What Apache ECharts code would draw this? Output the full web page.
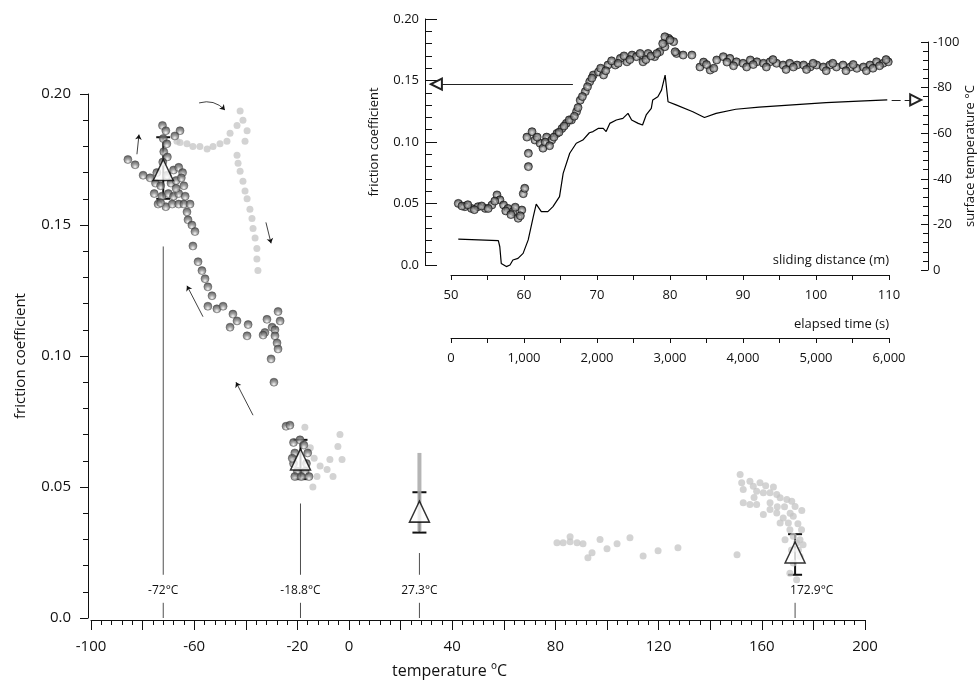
<!DOCTYPE html>
<html>
<head>
<meta charset="utf-8">
<title>friction coefficient vs temperature</title>
<script src="https://cdn.jsdelivr.net/npm/echarts@6/dist/echarts.min.js"></script>
<style>
  html, body { margin: 0; padding: 0; background: #fff; }
  #chart { width: 978px; height: 683px; }
</style>
</head>
<body>
<div id="chart"></div>
<script>
// ---- main panel: friction coefficient vs temperature ----
const darkPoints = [
  [-85.7, 0.175], [-82.9, 0.173], [-79.8, 0.169], [-77.1, 0.168],
  // cluster around -72
  [-72.3, 0.188], [-71, 0.186], [-72, 0.183], [-70.6, 0.181], [-71.8, 0.178], [-70.4, 0.176],
  [-72.2, 0.174], [-65.5, 0.186], [-67.5, 0.184],
  [-74.5, 0.170], [-68, 0.171], [-66, 0.172], [-64.5, 0.170], [-75, 0.166], [-73, 0.165],
  [-69, 0.166], [-67, 0.167], [-65, 0.168], [-64, 0.165], [-75.5, 0.162], [-72.5, 0.161],
  [-70, 0.162], [-68, 0.161], [-66, 0.162], [-63.5, 0.161], [-74, 0.158], [-71, 0.157],
  [-68.5, 0.158], [-66, 0.158], [-64, 0.158], [-67, 0.164], [-70.5, 0.169], [-73, 0.1585],
  // path back up towards -20
  [-61.6, 0.158], [-62.8, 0.155], [-62.4, 0.152], [-60.9, 0.150], [-59.7, 0.1475],
  [-60.5, 0.142], [-58.5, 0.136], [-57.0, 0.1326], [-55.8, 0.1295], [-54.7, 0.1264],
  [-53.1, 0.123], [-54.7, 0.119], [-51.2, 0.118], [-48.8, 0.119], [-45.0, 0.116],
  [-43.4, 0.1134], [-46.1, 0.111], [-39.1, 0.112], [-39.5, 0.1077], [-31.8, 0.114],
  [-32.6, 0.109], [-29.8, 0.111], [-27.5, 0.117], [-26.7, 0.1134], [-28.7, 0.110],
  [-33.3, 0.108], [-28.7, 0.1077], [-27.9, 0.105], [-27.5, 0.1027], [-30.2, 0.0989],
  [-29.1, 0.090], [-24.4, 0.0732], [-22.9, 0.0736],
  // cluster around -18.8
  [-21.5, 0.067], [-19, 0.068], [-17.5, 0.066], [-21, 0.063], [-16, 0.063], [-21.5, 0.059],
  [-16.5, 0.059], [-20, 0.056], [-17, 0.056], [-21, 0.054], [-18.5, 0.054], [-15.5, 0.054],
  [-22, 0.061]
];

const lightPoints = [
  // upper loop after heating
  [-66.7, 0.182], [-65.5, 0.1815], [-62.8, 0.181], [-60.5, 0.180], [-57.8, 0.180],
  [-55.0, 0.179], [-52.7, 0.180], [-50.0, 0.181], [-47.3, 0.182], [-46.1, 0.185],
  [-43.4, 0.188], [-42.2, 0.1935], [-41.1, 0.190], [-39.5, 0.186], [-40.3, 0.182],
  [-43.4, 0.1766], [-43.0, 0.1736], [-42.2, 0.1705], [-41.1, 0.1667], [-40.3, 0.163],
  [-39.5, 0.160], [-38.4, 0.156], [-37.6, 0.1525], [-37.2, 0.1487], [-36.4, 0.145],
  [-35.7, 0.141], [-35.7, 0.137], [-35.3, 0.1326],
  // around -18.8
  [-17.1, 0.0728], [-3.5, 0.070], [-4.3, 0.0655], [-2.7, 0.0605], [-7.4, 0.0605],
  [-8.5, 0.0567], [-6.2, 0.054], [-12.4, 0.054], [-14.0, 0.050], [-11.2, 0.058],
  [-15, 0.065], [-13.5, 0.061],
  // 80 - 130
  [80.6, 0.0287], [83, 0.0287], [85.7, 0.0291], [88.4, 0.0287], [90.7, 0.0283],
  [85.7, 0.031], [94.2, 0.0249], [92.6, 0.023], [97.3, 0.030], [100, 0.0264],
  [103.9, 0.0283], [108.9, 0.0306], [114, 0.0237], [119.8, 0.0257], [127.5, 0.0268],
  [150.4, 0.0241],
  // 150 - 178
  [151.6, 0.0548], [152.2, 0.0516], [152.8, 0.049], [155.4, 0.0522], [156.7, 0.0503],
  [159.3, 0.0516], [158, 0.0484], [160.6, 0.0478], [163.2, 0.0478], [165.8, 0.0471],
  [167.1, 0.0459], [169.7, 0.0452], [171.6, 0.0446], [152.8, 0.044], [155.4, 0.0433],
  [158, 0.0433], [160.6, 0.0395], [163.2, 0.0414], [165.8, 0.0401], [168.3, 0.0382],
  [170.3, 0.0363], [170.9, 0.0337], [172.2, 0.0312], [173.5, 0.0286], [174.2, 0.026],
  [174.8, 0.0235], [172.2, 0.021], [170.9, 0.0171], [173.5, 0.0146], [169, 0.0299],
  [174.8, 0.0299], [175.4, 0.0337], [172.2, 0.0388], [172.9, 0.0426], [163.2, 0.044],
  [167.1, 0.0363], [175.5, 0.041], [161.5, 0.0505], [164.5, 0.050], [166, 0.0425],
  [171, 0.040], [174, 0.036], [176, 0.028], [171.5, 0.026], [168.8, 0.0425], [157, 0.046]
];

const greyBar = [[27.3, 0.033], [27.3, 0.063]];

const meanTemps = [-72, -18.8, 27.3, 172.9];
const meanFriction = [0.171, 0.0605, 0.0406, 0.025];
const errLow = [0.160, 0.053, 0.0326, 0.0165];
const errHigh = [0.1835, 0.068, 0.048, 0.032];
const refLabels = ['-72°C', '-18.8°C', '27.3°C', '172.9°C'];
const refTop = [0.1418, 0.0437, 0.0248, 0];
const xLabelValues = [-100, -60, -20, 0, 40, 80, 120, 160, 200];

// small arrows drawn on the main panel (from, to, curveness), in data units
const mainArrows = [
  [[-82.2, 0.177], [-81.4, 0.1845], 0],
  [[-58.1, 0.1966], [-48.1, 0.1939], 0.3],
  [[-32.2, 0.151], [-30.2, 0.143], 0],
  [[-56.6, 0.115], [-62.8, 0.1268], 0],
  [[-37.2, 0.0774], [-43.8, 0.090], 0]
];

// ---- inset: friction and surface temperature vs sliding distance ----
const insetFriction = [
  [51.0, 0.0501], [51.9, 0.0474], [52.8, 0.046], [53.7, 0.0474], [54.7, 0.046], [55.6, 0.0488],
  [56.3, 0.057], [56.7, 0.053], [57.2, 0.0488], [57.8, 0.046], [58.5, 0.0434], [59.2, 0.038],
  [59.7, 0.0447], [59.9, 0.058], [60.1, 0.0624], [60.6, 0.080], [60.6, 0.0908], [60.4, 0.104],
  [61.1, 0.1084], [61.5, 0.1016], [62.2, 0.099], [62.6, 0.095], [63.1, 0.104], [63.8, 0.1016],
  [64.5, 0.107], [65.2, 0.111], [65.8, 0.1152], [66.5, 0.1179], [67.2, 0.1247], [67.7, 0.134],
  [68.4, 0.141], [69.0, 0.149], [69.5, 0.1545], [70.2, 0.157], [70.9, 0.1545], [71.5, 0.1626],
  [72.5, 0.1626], [73.2, 0.168], [74.1, 0.1652], [74.8, 0.1707], [75.4, 0.1694], [76.3, 0.1652],
  [77.0, 0.172], [77.9, 0.1694], [78.6, 0.1734], [79.3, 0.1775], [79.8, 0.1843], [80.5, 0.1816],
  [80.9, 0.172], [79.3, 0.1856], [80.0, 0.183], [80.7, 0.1734], [81.8, 0.1707], [83.0, 0.1707],
  [84.1, 0.161], [84.6, 0.165], [85.5, 0.1585], [86.4, 0.1667], [87.3, 0.1694], [88.2, 0.168],
  [89.1, 0.1652], [90.0, 0.164], [91.0, 0.1667], [91.9, 0.1652], [92.8, 0.164], [93.7, 0.1652],
  [94.6, 0.164], [95.5, 0.1626], [96.4, 0.164], [97.4, 0.1626], [98.3, 0.1626], [99.2, 0.161],
  [100.1, 0.1626], [101.0, 0.161], [101.9, 0.1626], [102.8, 0.161], [103.7, 0.1626], [104.7, 0.161],
  [105.6, 0.1599], [106.5, 0.161], [107.4, 0.1626], [108.3, 0.1652], [109.2, 0.164], [109.9, 0.1652],
  [51.5, 0.048], [52.3, 0.049], [53.2, 0.045], [54.2, 0.048], [55.1, 0.046], [56.0, 0.052],
  [57.5, 0.044], [58.2, 0.041], [58.8, 0.047], [59.5, 0.040],
  [61.8, 0.104], [62.9, 0.100], [63.5, 0.097], [64.1, 0.104], [64.8, 0.108], [65.5, 0.113],
  [66.2, 0.118], [66.9, 0.121], [67.4, 0.128], [68.0, 0.137], [68.7, 0.145], [69.3, 0.152],
  [70.5, 0.160], [71.2, 0.158], [72.0, 0.166], [72.9, 0.164], [73.7, 0.170], [74.5, 0.167],
  [75.9, 0.172], [76.7, 0.167], [77.4, 0.170], [78.2, 0.172], [79.0, 0.180],
  [85.0, 0.163], [86.0, 0.160], [87.8, 0.165], [88.7, 0.162], [90.5, 0.161], [91.4, 0.163],
  [93.2, 0.161], [94.1, 0.167], [95.9, 0.159], [96.9, 0.161], [98.7, 0.159], [99.6, 0.164],
  [101.4, 0.158], [102.3, 0.164], [104.1, 0.158], [105.1, 0.163], [106.9, 0.158], [107.8, 0.160],
  [108.7, 0.162], [109.6, 0.167]
];

const insetTemp = [
  [51.0, -13.5], [56.5, -12.9], [56.7, -10.2], [56.9, -2.9], [57.6, -1.5], [58.1, -2.2],
  [58.5, -4.4], [59.2, -5.1], [59.9, -7.3], [60.6, -13.2], [61.3, -23.4], [61.7, -28.9],
  [62.4, -25.6], [63.3, -25.6], [64.0, -27.8], [64.9, -32.2], [65.4, -42.4], [66.3, -51.2],
  [67.2, -55.6], [68.1, -57.0], [69.0, -60.2], [69.5, -60.7], [70.2, -62.1], [70.9, -62.1],
  [71.3, -60.7], [71.8, -64.3], [72.7, -65.8], [73.6, -66.5], [74.3, -68.7], [74.8, -65.8],
  [75.7, -64.3], [76.3, -63.6], [76.8, -68.0], [77.5, -70.9], [77.7, -74.6], [78.4, -76.0],
  [78.9, -78.9], [79.4, -85.5], [79.8, -73.8], [80.9, -72.4], [83.2, -69.4], [84.1, -68.0],
  [84.3, -68.7], [84.8, -66.9], [86.4, -68.7], [89.1, -70.5], [92.3, -71.4], [96.9, -72.4],
  [101.5, -73.4], [106.0, -74.1], [109.9, -74.6]
];

const frictionArrow = [[66.7, 0.147], [48.0, 0.147]];
const tempArrow = [[110.5, -74.6], [113.8, -74.6]];

// label / gap positions of the reference lines (data units)
const refGapTop = 0.0165, refLabelY = 0.0103, refGapBottom = 0.0058;

const FONT = '"Open Sans", "Noto Sans", sans-serif';
const INK = '#111';

const chart = echarts.init(document.getElementById('chart'));

const sphereDark = new echarts.graphic.RadialGradient(0.5, 0.75, 0.7, [
  { offset: 0, color: '#f4f4f4' }, { offset: 0.45, color: '#8a8a8a' }, { offset: 1, color: '#3a3a3a' }
]);
const sphereInset = new echarts.graphic.RadialGradient(0.5, 0.6, 0.6, [
  { offset: 0, color: '#d8d8d8' }, { offset: 0.5, color: '#7a7a7a' }, { offset: 1, color: '#151515' }
]);

function tickStyle(len, minorLen, inside) {
  return {
    axisTick: { show: true, inside: inside, length: len, lineStyle: { color: INK, width: 1 } },
    minorTick: { show: true, splitNumber: 5, length: minorLen, lineStyle: { color: INK, width: 1 } }
  };
}
const axisLine = { show: true, onZero: false, lineStyle: { color: INK } };

chart.setOption({
  animation: false,
  backgroundColor: '#fff',
  textStyle: { fontFamily: FONT },
  grid: [
    { left: 91, right: 113, top: 94, bottom: 65 },
    { left: 451, right: 89, top: 19, bottom: 418 },
    { left: 451, right: 89, top: 42, bottom: 413 }
  ],
  xAxis: [
    Object.assign({
      gridIndex: 0, type: 'value', min: -100, max: 200, interval: 20, offset: 2,
      axisLine: axisLine,
      splitLine: { show: false },
      axisLabel: {
        color: INK, fontSize: 15, margin: 19, fontFamily: FONT,
        formatter: v => xLabelValues.indexOf(v) >= 0 ? String(v) : ''
      }
    }, tickStyle(10, 5, false)),
    {
      gridIndex: 1, type: 'value', min: 50, max: 110, interval: 5, offset: 10,
      axisLine: axisLine,
      axisTick: { show: true, length: 5, lineStyle: { color: INK } },
      splitLine: { show: false },
      axisLabel: { color: INK, fontSize: 13, margin: 14, fontFamily: FONT,
        formatter: v => v % 10 === 0 ? String(v) : '' }
    },
    {
      gridIndex: 1, type: 'value', min: 0, max: 6000, interval: 500, offset: 73, position: 'bottom',
      axisLine: axisLine,
      axisTick: { show: true, length: 5, lineStyle: { color: INK } },
      splitLine: { show: false },
      axisLabel: { color: INK, fontSize: 13, margin: 14, fontFamily: FONT,
        formatter: v => v % 1000 === 0 ? v.toLocaleString('en-US') : '' }
    },
    { gridIndex: 2, type: 'value', min: 50, max: 110, show: false }
  ],
  yAxis: [
    Object.assign({
      gridIndex: 0, type: 'value', min: 0, max: 0.2, interval: 0.05, offset: 3,
      name: 'friction coefficient', nameLocation: 'middle', nameGap: 60,
      nameTextStyle: { color: INK, fontSize: 15, fontFamily: FONT },
      axisLine: axisLine,
      splitLine: { show: false },
      axisLabel: { color: INK, fontSize: 15, margin: 17, fontFamily: FONT,
        formatter: v => v === 0 ? '0.0' : v.toFixed(2) }
    }, tickStyle(8, 5, false)),
    Object.assign({
      gridIndex: 1, type: 'value', min: 0, max: 0.2, interval: 0.05, offset: 26,
      name: 'friction coefficient', nameLocation: 'middle', nameGap: 44,
      nameTextStyle: { color: INK, fontSize: 13, fontFamily: FONT },
      axisLine: axisLine,
      splitLine: { show: false },
      axisLabel: { color: INK, fontSize: 13, margin: 6, fontFamily: FONT,
        formatter: v => v === 0 ? '0.0' : v.toFixed(2) }
    }, tickStyle(12, 7, true)),
    Object.assign({
      gridIndex: 2, type: 'value', min: -100, max: 0, interval: 20, inverse: true,
      position: 'right', offset: 40,
      name: 'surface temperature °C', nameLocation: 'middle', nameGap: 36,
      nameTextStyle: { color: INK, fontSize: 13, fontFamily: FONT },
      axisLine: axisLine,
      splitLine: { show: false },
      axisLabel: { color: INK, fontSize: 13, margin: 5, fontFamily: FONT }
    }, tickStyle(7, 5, true))
  ],
  graphic: [
    { type: 'text', left: 392, top: 663, style: { text: 'temperature ºC', fill: INK, font: '16px ' + FONT } },
    { type: 'text', right: 89, top: 254, style: { text: 'sliding distance (m)', fill: INK, font: '13px ' + FONT } },
    { type: 'text', right: 89, top: 318, style: { text: 'elapsed time (s)', fill: INK, font: '13px ' + FONT } }
  ],
  series: [
    {
      type: 'scatter', xAxisIndex: 0, yAxisIndex: 0, data: lightPoints,
      symbolSize: 7,
      itemStyle: { color: '#c4c4c4', opacity: 0.75 }
    },
    {
      type: 'line', xAxisIndex: 0, yAxisIndex: 0, data: greyBar, symbol: 'none',
      lineStyle: { color: '#a8a8a8', width: 4, opacity: 0.85 }
    },
    {
      type: 'scatter', xAxisIndex: 0, yAxisIndex: 0, data: darkPoints,
      symbolSize: 8,
      itemStyle: { color: sphereDark, borderColor: '#444', borderWidth: 0.6 }
    },
    {
      // vertical reference lines with temperature labels
      type: 'custom', xAxisIndex: 0, yAxisIndex: 0,
      data: meanTemps.map((t, i) => [t, refTop[i], i]),
      renderItem: function (params, api) {
        const x = api.value(0), top = api.value(1), i = api.value(2);
        const children = [];
        const ls = { stroke: '#222', lineWidth: 0.8 };
        if (top > refGapTop) {
          const a = api.coord([x, top]), b = api.coord([x, refGapTop]);
          children.push({ type: 'line', shape: { x1: a[0], y1: a[1], x2: b[0], y2: b[1] }, style: ls });
        }
        const c = api.coord([x, refGapBottom]), d = api.coord([x, 0]);
        children.push({ type: 'line', shape: { x1: c[0], y1: c[1], x2: d[0], y2: d[1] }, style: ls });
        const t = api.coord([x, refLabelY]);
        const last = i === meanTemps.length - 1;
        children.push({
          type: 'text',
          style: {
            text: refLabels[i], x: last ? t[0] - 5 : t[0], y: t[1],
            align: last ? 'left' : 'center', verticalAlign: 'middle',
            fill: INK, fontSize: 12, fontFamily: FONT
          }
        });
        return { type: 'group', children: children };
      }
    },
    {
      // error bars
      type: 'custom', xAxisIndex: 0, yAxisIndex: 0,
      data: meanTemps.map((t, i) => [t, errLow[i], errHigh[i]]),
      encode: { x: 0, y: [1, 2] },
      renderItem: function (params, api) {
        const lo = api.coord([api.value(0), api.value(1)]);
        const hi = api.coord([api.value(0), api.value(2)]);
        const w = 7;
        const s = { stroke: '#111', lineWidth: 2 };
        return {
          type: 'group', children: [
            { type: 'line', shape: { x1: lo[0], y1: lo[1], x2: hi[0], y2: hi[1] }, style: s },
            { type: 'line', shape: { x1: lo[0] - w, y1: lo[1], x2: lo[0] + w, y2: lo[1] }, style: s },
            { type: 'line', shape: { x1: hi[0] - w, y1: hi[1], x2: hi[0] + w, y2: hi[1] }, style: s }
          ]
        };
      }
    },
    {
      type: 'scatter', xAxisIndex: 0, yAxisIndex: 0,
      data: meanTemps.map((t, i) => [t, meanFriction[i]]),
      symbol: 'triangle', symbolSize: [20, 21],
      itemStyle: { color: '#fff', borderColor: '#000', borderWidth: 1.5 },
      z: 5
    },
    {
      type: 'lines', coordinateSystem: 'cartesian2d', xAxisIndex: 0, yAxisIndex: 0,
      data: mainArrows.map(a => ({ coords: [a[0], a[1]], lineStyle: { curveness: a[2] } })),
      symbol: ['none', 'arrow'], symbolSize: 5,
      lineStyle: { color: '#111', width: 0.8, opacity: 1 },
      clip: false
    },
    // inset
    {
      type: 'scatter', xAxisIndex: 1, yAxisIndex: 1, data: insetFriction,
      symbolSize: 8,
      itemStyle: { color: sphereInset, borderColor: '#111', borderWidth: 0.8 }
    },
    {
      type: 'line', xAxisIndex: 3, yAxisIndex: 2, data: insetTemp, symbol: 'none',
      lineStyle: { color: '#000', width: 1.2 }
    },
    {
      type: 'lines', coordinateSystem: 'cartesian2d', xAxisIndex: 1, yAxisIndex: 1,
      data: [{ coords: frictionArrow }],
      symbol: ['none', 'emptyTriangle'], symbolSize: [9, 11],
      lineStyle: { color: '#222', width: 1, opacity: 1 },
      clip: false
    },
    {
      type: 'lines', coordinateSystem: 'cartesian2d', xAxisIndex: 3, yAxisIndex: 2,
      data: [{ coords: tempArrow }],
      symbol: ['none', 'emptyTriangle'], symbolSize: [9, 11],
      lineStyle: { color: '#222', width: 1, opacity: 1, type: [9, 4] },
      clip: false
    }
  ]
});
</script>
</body>
</html>
